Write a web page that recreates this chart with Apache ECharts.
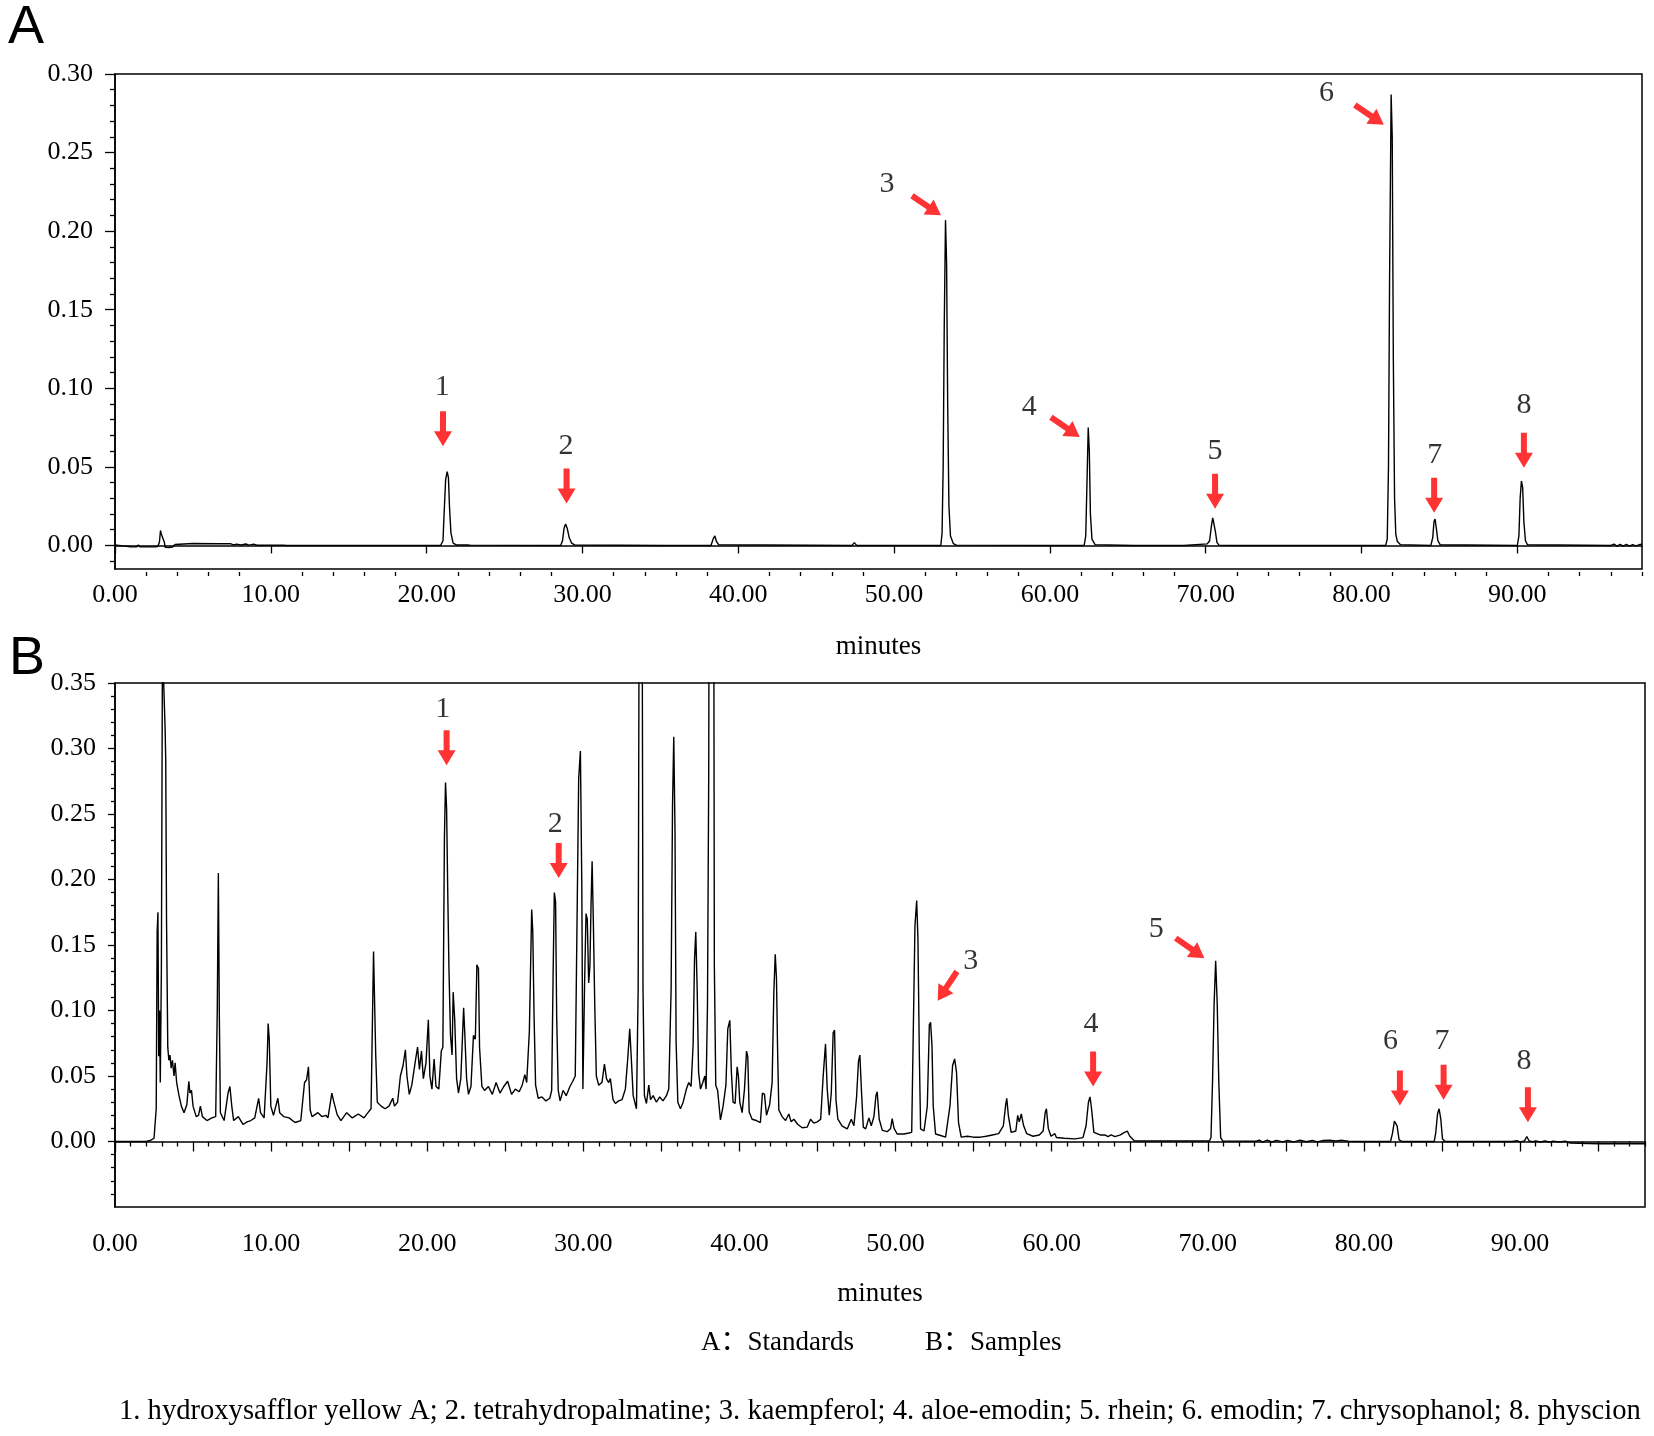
<!DOCTYPE html>
<html>
<head>
<meta charset="utf-8">
<script src="https://cdn.jsdelivr.net/npm/echarts@6.0.0/dist/echarts.min.js"></script>
<style>
  html, body { margin: 0; padding: 0; background: #fff; }
  #chart { width: 1654px; height: 1436px; }
</style>
</head>
<body>
<div id="chart"></div>
<script>
// HPLC chromatograms: A = standards, B = samples.

// ---- axis ticks (minutes / absorbance) ----
const timeLabels = [0, 10, 20, 30, 40, 50, 60, 70, 80, 90];
const timeMajorA = [0, 10, 20, 30, 40, 50, 60, 70, 80, 90];
const timeMinorA = [2, 4, 6, 8, 12, 14, 16, 18, 22, 24, 26, 28, 32, 34, 36, 38, 42, 44, 46, 48,
  52, 54, 56, 58, 62, 64, 66, 68, 72, 74, 76, 78, 82, 84, 86, 88, 92, 94, 96, 98];
const timeMajorB = [0, 5, 10, 15, 20, 25, 30, 35, 40, 45, 50, 55, 60, 65, 70, 75, 80, 85, 90, 95];
const timeMinorB = [1, 2, 3, 4, 6, 7, 8, 9, 11, 12, 13, 14, 16, 17, 18, 19, 21, 22, 23, 24,
  26, 27, 28, 29, 31, 32, 33, 34, 36, 37, 38, 39, 41, 42, 43, 44, 46, 47, 48, 49,
  51, 52, 53, 54, 56, 57, 58, 59, 61, 62, 63, 64, 66, 67, 68, 69, 71, 72, 73, 74,
  76, 77, 78, 79, 81, 82, 83, 84, 86, 87, 88, 89, 91, 92, 93, 94, 96, 97, 98];
const absLabelsA = [0, 0.05, 0.10, 0.15, 0.20, 0.25, 0.30];
const absMinorA = [-0.01, 0.01, 0.02, 0.03, 0.04, 0.06, 0.07, 0.08, 0.09, 0.11, 0.12, 0.13, 0.14,
  0.16, 0.17, 0.18, 0.19, 0.21, 0.22, 0.23, 0.24, 0.26, 0.27, 0.28, 0.29];
const absLabelsB = [0, 0.05, 0.10, 0.15, 0.20, 0.25, 0.30, 0.35];
const absMinorB = [-0.04, -0.03, -0.02, -0.01, 0.01, 0.02, 0.03, 0.04, 0.06, 0.07, 0.08, 0.09,
  0.11, 0.12, 0.13, 0.14, 0.16, 0.17, 0.18, 0.19, 0.21, 0.22, 0.23, 0.24, 0.26, 0.27, 0.28, 0.29,
  0.31, 0.32, 0.33, 0.34];

// ---- trace A: standards [minutes, AU] ----
const traceA = [
  [0, 0.0003], [0.5, -0.0003], [1.0, -0.0008], [1.4, -0.0009], [1.5, 0.0004], [1.6, -0.0009],
  [2.6, -0.0009], [2.75, -0.0005], [2.85, 0.002], [2.92, 0.0095], [2.97, 0.0075], [3.02, 0.006],
  [3.1, 0.0058], [3.17, 0.002], [3.22, -0.0012], [3.45, -0.0013], [3.7, -0.001], [3.85, 0.0006],
  [3.95, 0.0012], [5.0, 0.0012], [6.5, 0.0011], [7.4, 0.0011], [7.6, 0.0003], [7.8, 0.0008],
  [8.1, 0.0003], [8.4, 0.0009], [8.6, 0.0002], [8.9, 0.0008], [9.1, 0.0001], [10.2, 0.0001],
  [10.3, 0.0007], [10.4, 0.0001], [10.8, 0.0001], [10.9, 0.0007], [11.0, 0],
  [20.9, 0], [21.05, 0.003], [21.12, 0.02], [21.22, 0.042], [21.32, 0.047], [21.4, 0.043],
  [21.47, 0.024], [21.56, 0.008], [21.7, 0.0015], [21.9, 0.0003], [22.6, 0.0003], [22.7, 0.0012],
  [22.8, 0.0002], [28.6, 0], [28.72, 0.003], [28.82, 0.011], [28.92, 0.0137], [29.02, 0.011],
  [29.15, 0.005], [29.3, 0.0015], [29.5, 0.0003], [35.2, 0], [35.3, 0.0008], [35.4, 0],
  [38.25, 0], [38.4, 0.0045], [38.5, 0.006], [38.6, 0.0025], [38.75, 0.0004], [47.3, 0],
  [47.45, 0.0018], [47.6, 0], [53.0, 0], [53.08, 0.008], [53.15, 0.05], [53.22, 0.14],
  [53.3, 0.207], [53.37, 0.18], [53.44, 0.09], [53.52, 0.025], [53.62, 0.006], [53.8, 0.0012],
  [54.0, 0.0002], [62.2, 0], [62.3, 0.006], [62.38, 0.04], [62.46, 0.075], [62.53, 0.06],
  [62.6, 0.02], [62.7, 0.004], [62.9, 0.0005], [65.4, 0], [65.5, 0.0008], [65.6, 0], [67.0, 0],
  [67.1, 0.0006], [67.2, 0], [68.6, 0], [68.7, 0.0009], [70.1, 0.001], [70.25, 0.003],
  [70.36, 0.012], [70.45, 0.0175], [70.53, 0.017], [70.62, 0.009], [70.72, 0.002], [70.85, 0.0002],
  [71.9, 0], [72.0, 0.0008], [72.1, 0], [72.8, 0], [72.9, 0.0007], [73.0, 0], [73.7, 0],
  [73.8, 0.0009], [73.9, 0], [79.4, 0], [79.5, 0.0009], [79.6, 0], [81.55, 0], [81.65, 0.004],
  [81.73, 0.05], [81.8, 0.17], [81.9, 0.287], [81.97, 0.26], [82.04, 0.12], [82.12, 0.03],
  [82.2, 0.007], [82.3, 0.0025], [82.5, 0.0005], [84.45, 0], [84.57, 0.005], [84.65, 0.015],
  [84.72, 0.0168], [84.8, 0.011], [84.9, 0.003], [85.05, 0.0004], [90.0, 0], [90.1, 0.006],
  [90.18, 0.03], [90.26, 0.041], [90.34, 0.037], [90.42, 0.015], [90.52, 0.003], [90.65, 0.0004],
  [96.0, 0], [96.2, 0.0008], [96.4, -0.0004], [96.6, 0.0007], [96.8, -0.0005], [97.0, 0.0006],
  [97.2, -0.0004], [97.4, 0.0005], [97.6, -0.0003], [97.8, 0.0004], [98, 0.0008]
];

// ---- trace B: samples [minutes, AU] ----
const traceB = [
  [0, 0], [2.0, 0], [2.3, 0.001], [2.5, 0.0025], [2.58, 0.004], [2.64, 0.025], [2.7, 0.16],
  [2.75, 0.175], [2.8, 0.065], [2.85, 0.1], [2.9, 0.045], [2.97, 0.13], [3.04, 0.38], [3.16, 0.38],
  [3.21, 0.315], [3.25, 0.29], [3.3, 0.17], [3.38, 0.072], [3.45, 0.062], [3.52, 0.066],
  [3.6, 0.056], [3.68, 0.062], [3.78, 0.05], [3.85, 0.06], [3.95, 0.045], [4.1, 0.035],
  [4.25, 0.027], [4.42, 0.022], [4.6, 0.028], [4.73, 0.046], [4.8, 0.037], [4.9, 0.039],
  [5.0, 0.027], [5.2, 0.019], [5.35, 0.02], [5.47, 0.027], [5.6, 0.019], [5.89, 0.016],
  [6.2, 0.018], [6.45, 0.019], [6.55, 0.1], [6.62, 0.205], [6.68, 0.1], [6.75, 0.022],
  [6.99, 0.016], [7.24, 0.037], [7.36, 0.042], [7.48, 0.027], [7.6, 0.016], [7.9, 0.019],
  [8.2, 0.013], [8.46, 0.015], [8.7, 0.016], [8.95, 0.018], [9.2, 0.033], [9.32, 0.022],
  [9.55, 0.018], [9.74, 0.06], [9.81, 0.09], [9.88, 0.078], [9.98, 0.027], [10.15, 0.02],
  [10.43, 0.033], [10.55, 0.022], [10.8, 0.019], [11.15, 0.018], [11.53, 0.0145], [11.9, 0.016],
  [12.14, 0.045], [12.27, 0.047], [12.39, 0.057], [12.5, 0.024], [12.62, 0.019], [13.0, 0.022],
  [13.25, 0.019], [13.5, 0.02], [13.64, 0.018], [13.89, 0.037], [14.0, 0.031], [14.23, 0.0205],
  [14.47, 0.016], [14.84, 0.022], [15.2, 0.018], [15.58, 0.021], [15.95, 0.018], [16.2, 0.022],
  [16.4, 0.025], [16.5, 0.1], [16.56, 0.145], [16.63, 0.144], [16.7, 0.066], [16.8, 0.03],
  [17.05, 0.027], [17.3, 0.025], [17.55, 0.027], [17.79, 0.033], [17.9, 0.027], [18.1, 0.03],
  [18.28, 0.05], [18.45, 0.058], [18.6, 0.07], [18.7, 0.05], [18.85, 0.036], [19.01, 0.043],
  [19.26, 0.063], [19.38, 0.072], [19.5, 0.055], [19.63, 0.069], [19.75, 0.048], [19.92, 0.06],
  [20.07, 0.093], [20.17, 0.05], [20.3, 0.04], [20.44, 0.063], [20.56, 0.042], [20.74, 0.04],
  [20.9, 0.069], [21.0, 0.072], [21.1, 0.232], [21.17, 0.274], [21.24, 0.254], [21.31, 0.193],
  [21.39, 0.132], [21.49, 0.081], [21.59, 0.066], [21.66, 0.114], [21.76, 0.093], [21.88, 0.048],
  [22.0, 0.037], [22.15, 0.048], [22.33, 0.102], [22.4, 0.084], [22.52, 0.048], [22.64, 0.036],
  [22.8, 0.042], [22.96, 0.081], [23.08, 0.078], [23.18, 0.135], [23.28, 0.132], [23.35, 0.072],
  [23.5, 0.042], [23.67, 0.039], [23.92, 0.042], [24.17, 0.036], [24.41, 0.045], [24.66, 0.037],
  [24.9, 0.042], [25.15, 0.046], [25.4, 0.036], [25.64, 0.04], [25.89, 0.038], [26.08, 0.043],
  [26.25, 0.051], [26.37, 0.045], [26.54, 0.084], [26.69, 0.177], [26.76, 0.16], [26.84, 0.097],
  [26.94, 0.043], [27.11, 0.033], [27.35, 0.034], [27.6, 0.031], [27.85, 0.033], [27.97, 0.039],
  [28.06, 0.126], [28.14, 0.19], [28.22, 0.183], [28.29, 0.096], [28.39, 0.039], [28.51, 0.031],
  [28.7, 0.039], [28.9, 0.035], [29.14, 0.042], [29.32, 0.046], [29.48, 0.05], [29.6, 0.05],
  [29.7, 0.277], [29.81, 0.298], [29.9, 0.195], [29.97, 0.04], [30.08, 0.122], [30.17, 0.174],
  [30.25, 0.17], [30.34, 0.121], [30.42, 0.134], [30.49, 0.18], [30.56, 0.214], [30.64, 0.167],
  [30.73, 0.104], [30.83, 0.05], [30.98, 0.043], [31.19, 0.045], [31.35, 0.059], [31.48, 0.048],
  [31.62, 0.045], [31.73, 0.048], [31.9, 0.032], [32.05, 0.029], [32.26, 0.031], [32.48, 0.032],
  [32.69, 0.04], [32.84, 0.063], [32.97, 0.086], [33.06, 0.066], [33.19, 0.035], [33.4, 0.025],
  [33.51, 0.116], [33.58, 0.45], [33.76, 0.45], [33.82, 0.116], [33.91, 0.035], [34.04, 0.029],
  [34.19, 0.043], [34.3, 0.032], [34.47, 0.035], [34.68, 0.03], [34.89, 0.034], [35.1, 0.031],
  [35.32, 0.035], [35.47, 0.04], [35.62, 0.116], [35.71, 0.256], [35.79, 0.309], [35.87, 0.236],
  [35.94, 0.076], [36.05, 0.03], [36.22, 0.025], [36.39, 0.03], [36.6, 0.04], [36.75, 0.045],
  [36.9, 0.042], [37.03, 0.074], [37.12, 0.139], [37.2, 0.16], [37.29, 0.116], [37.38, 0.053],
  [37.5, 0.04], [37.65, 0.045], [37.78, 0.05], [37.86, 0.04], [37.95, 0.104], [38.03, 0.282],
  [38.08, 0.6], [38.33, 0.6], [38.39, 0.134], [38.48, 0.043], [38.6, 0.039], [38.78, 0.0165],
  [38.95, 0.027], [39.13, 0.043], [39.25, 0.086], [39.38, 0.0925], [39.48, 0.053], [39.59, 0.03],
  [39.72, 0.029], [39.85, 0.057], [39.93, 0.05], [40.02, 0.03], [40.17, 0.022], [40.32, 0.04],
  [40.45, 0.069], [40.53, 0.065], [40.62, 0.0225], [40.81, 0.017], [41.08, 0.016], [41.34, 0.0145],
  [41.47, 0.037], [41.6, 0.036], [41.73, 0.02], [41.93, 0.028], [42.09, 0.045], [42.2, 0.114],
  [42.29, 0.143], [42.37, 0.124], [42.44, 0.07], [42.52, 0.024], [42.73, 0.019], [42.95, 0.016],
  [43.16, 0.021], [43.31, 0.015], [43.48, 0.017], [43.74, 0.013], [44.02, 0.0105], [44.34, 0.011],
  [44.55, 0.017], [44.76, 0.014], [44.98, 0.015], [45.2, 0.017], [45.36, 0.05], [45.51, 0.0745],
  [45.62, 0.04], [45.75, 0.02], [45.88, 0.037], [46.0, 0.083], [46.09, 0.085], [46.18, 0.032],
  [46.3, 0.017], [46.58, 0.0117], [46.9, 0.0096], [47.16, 0.017], [47.33, 0.012], [47.5, 0.034],
  [47.62, 0.061], [47.71, 0.066], [47.82, 0.037], [47.93, 0.011], [48.08, 0.0096], [48.29, 0.018],
  [48.44, 0.012], [48.61, 0.019], [48.74, 0.035], [48.82, 0.038], [48.95, 0.017], [49.15, 0.0085],
  [49.46, 0.0075], [49.68, 0.01], [49.78, 0.0175], [49.9, 0.01], [50.1, 0.0057], [50.53, 0.0057],
  [50.85, 0.0065], [51.03, 0.007], [51.13, 0.083], [51.24, 0.165], [51.35, 0.184], [51.43, 0.155],
  [51.52, 0.066], [51.6, 0.0096], [51.82, 0.008], [52.03, 0.027], [52.16, 0.089], [52.24, 0.091],
  [52.33, 0.073], [52.41, 0.027], [52.56, 0.0057], [52.88, 0.0046], [53.2, 0.0033], [53.48, 0.027],
  [53.65, 0.058], [53.78, 0.063], [53.9, 0.053], [54.03, 0.0145], [54.2, 0.0033], [54.59, 0.004],
  [55.0, 0.0033], [55.43, 0.0033], [55.8, 0.004], [56.2, 0.005], [56.6, 0.006], [56.9, 0.012],
  [57.05, 0.028], [57.12, 0.033], [57.22, 0.02], [57.4, 0.007], [57.7, 0.008], [57.82, 0.02],
  [57.92, 0.015], [58.05, 0.021], [58.2, 0.012], [58.4, 0.006], [58.8, 0.004], [59.2, 0.005],
  [59.45, 0.008], [59.58, 0.022], [59.66, 0.025], [59.78, 0.01], [59.95, 0.004], [60.2, 0.006],
  [60.3, 0.003], [60.8, 0.0025], [61.5, 0.002], [62.0, 0.003], [62.2, 0.012], [62.35, 0.03],
  [62.45, 0.034], [62.55, 0.025], [62.7, 0.007], [63.1, 0.005], [63.4, 0.005], [63.6, 0.0037],
  [63.8, 0.005], [64.05, 0.0037], [64.4, 0.005], [64.6, 0.0066], [64.84, 0.008], [65.0, 0.004],
  [65.3, 0.0004], [70.1, 0.0004], [70.2, 0.003], [70.3, 0.046], [70.4, 0.105], [70.5, 0.138],
  [70.6, 0.105], [70.7, 0.046], [70.82, 0.003], [70.95, 0.0004], [73.1, 0.0002], [73.3, 0.001],
  [73.5, -0.0005], [73.8, 0.001], [74.1, -0.0004], [74.4, 0.0009], [74.8, -0.0003], [75.1, 0.0008],
  [75.5, -0.0003], [75.9, 0.001], [76.3, -0.0002], [76.7, 0.0009], [77.0, -0.0003], [77.4, 0.0008],
  [77.8, 0.0009], [78.2, 0.0004], [78.6, 0.0009], [79.0, 0.0002], [80.0, 0], [81.7, 0],
  [81.82, 0.006], [81.95, 0.0155], [82.03, 0.0166], [82.12, 0.012], [82.25, 0.0013], [82.45, 0],
  [84.5, 0], [84.6, 0.007], [84.71, 0.021], [84.81, 0.025], [84.92, 0.017], [85.03, 0.002],
  [85.2, 0], [89.5, 0], [89.8, 0.0006], [90.0, -0.0003], [90.28, 0.0005], [90.43, 0.0038],
  [90.58, 0.0004], [90.8, -0.0002], [91.0, 0.0005], [91.3, -0.0004], [91.6, 0.0004], [91.9, -0.0005],
  [92.1, 0.0003], [92.5, -0.0003], [92.9, 0.0003], [93.2, -0.0012], [95, -0.0017], [98, -0.0017]
];

// ---- peak markers: [minutes, AU at arrow centre, rotation deg] and [minutes, AU, text] ----
const arrowsA = [
  [21.05, 0.0742, 0], [28.98, 0.0378, 0], [52.08, 0.2163, 56], [60.99, 0.0753, 55.5],
  [70.6, 0.0345, 0], [80.5, 0.274, 56], [84.66, 0.032, 0], [90.42, 0.0606, 0]
];
const peakLabelsA = [
  [21.0, 0.1006, '1'], [28.95, 0.0629, '2'], [49.54, 0.23, '3'], [58.68, 0.088, '4'],
  [70.6, 0.060, '5'], [77.75, 0.288, '6'], [84.7, 0.0577, '7'], [90.42, 0.0894, '8']
];
const arrowsB = [
  [21.24, 0.3005, 0], [28.42, 0.2145, 0], [53.31, 0.1186, -33.4], [62.65, 0.0554, 0],
  [68.86, 0.1476, 55], [82.3, 0.0408, 0], [85.1, 0.0453, 0], [90.5, 0.028, 0]
];
const peakLabelsB = [
  [21.0, 0.330, '1'], [28.2, 0.2425, '2'], [54.81, 0.138, '3'], [62.51, 0.0897, '4'],
  [66.7, 0.162, '5'], [81.7, 0.0765, '6'], [85.0, 0.0765, '7'], [90.25, 0.0612, '8']
];

const serif = "'Liberation Serif', 'Times New Roman', 'Noto Sans CJK SC', serif";
const black = '#000';
const arrowPath = 'path://M6,0 L12,0 L12,20 L18,20 L9,35 L0,20 L6,20 Z';
const fmt2 = (v) => Number(v).toFixed(2);

function timeAxis(grid, extra) {
  return Object.assign({
    gridIndex: grid, type: 'value', position: 'bottom', min: 0, max: 98,
    axisLine: { show: false }, axisTick: { show: false },
    axisLabel: { show: false }, splitLine: { show: false }
  }, extra);
}
function absAxis(grid, min, max, extra) {
  return Object.assign({
    gridIndex: grid, type: 'value', position: 'left', min: min, max: max,
    axisLine: { show: false }, axisTick: { show: false },
    axisLabel: { show: false }, splitLine: { show: false }
  }, extra);
}
const tickStyle = { color: black, width: 1.3 };
const labelStyle = { color: black, fontSize: 26, fontFamily: serif };
const nameStyle = { color: black, fontSize: 27, fontFamily: serif };

function markerSeries(xi, yi, arrows, labels) {
  return [{
    type: 'scatter', xAxisIndex: xi, yAxisIndex: yi, z: 5, silent: true,
    symbol: arrowPath, symbolSize: [18, 35],
    itemStyle: { color: '#ff0000' },
    data: arrows.map((a) => ({ value: [a[0], a[1]], symbolRotate: a[2] }))
  }, {
    type: 'scatter', xAxisIndex: xi, yAxisIndex: yi, z: 6, silent: true,
    symbolSize: 1, itemStyle: { color: 'rgba(0,0,0,0)' },
    label: { show: true, position: 'inside', formatter: '{b}', color: black, fontSize: 30, fontFamily: serif },
    data: labels.map((l) => ({ name: l[2], value: [l[0], l[1]] }))
  }];
}

const chart = echarts.init(document.getElementById('chart'), null, { renderer: 'canvas' });
chart.setOption({
  backgroundColor: '#fff',
  animation: false,
  grid: [
    { left: 115, top: 74, width: 1527, height: 495, show: true, borderColor: black, borderWidth: 1.5,
      backgroundColor: 'transparent', containLabel: false, outerBoundsMode: 'none' },
    { left: 115, top: 683, width: 1530, height: 524, show: true, borderColor: black, borderWidth: 1.5,
      backgroundColor: 'transparent', containLabel: false, outerBoundsMode: 'none' }
  ],
  xAxis: [
    timeAxis(0, {
      axisLine: { show: true, lineStyle: { color: black, width: 1.5 } },
      axisLabel: { show: true, customValues: timeLabels, formatter: fmt2, margin: 13, ...labelStyle },
      name: 'minutes', nameLocation: 'middle', nameGap: 64, nameTextStyle: nameStyle
    }),
    timeAxis(0, { offset: 3, axisTick: { show: true, customValues: timeMajorA, length: 8, lineStyle: tickStyle } }),
    timeAxis(0, { offset: 3, axisTick: { show: true, customValues: timeMinorA, length: 4, lineStyle: tickStyle } }),
    timeAxis(1, {
      axisLine: { show: true, lineStyle: { color: black, width: 1.5 } },
      axisTick: { show: true, customValues: timeMajorB, length: 10, lineStyle: tickStyle },
      axisLabel: { show: true, customValues: timeLabels, formatter: fmt2, margin: 24, ...labelStyle },
      name: 'minutes', nameLocation: 'middle', nameGap: 73, nameTextStyle: nameStyle
    }),
    timeAxis(1, { axisTick: { show: true, customValues: timeMinorB, length: 5, lineStyle: tickStyle } })
  ],
  yAxis: [
    absAxis(0, -0.015, 0.30, {
      axisLine: { show: true, lineStyle: { color: black, width: 1.5 } },
      axisTick: { show: true, customValues: absLabelsA, length: 10, lineStyle: tickStyle },
      axisLabel: { show: true, customValues: absLabelsA, formatter: fmt2, margin: 22, ...labelStyle }
    }),
    absAxis(0, -0.015, 0.30, { axisTick: { show: true, customValues: absMinorA, length: 5, lineStyle: tickStyle } }),
    absAxis(1, -0.05, 0.35, {
      axisLine: { show: true, lineStyle: { color: black, width: 1.5 } },
      axisTick: { show: true, customValues: absLabelsB, length: 7, lineStyle: tickStyle },
      axisLabel: { show: true, customValues: absLabelsB, formatter: fmt2, margin: 19, ...labelStyle }
    }),
    absAxis(1, -0.05, 0.35, { axisTick: { show: true, customValues: absMinorB, length: 4, lineStyle: tickStyle } })
  ],
  series: [
    { type: 'line', name: 'Standards', xAxisIndex: 0, yAxisIndex: 0, data: traceA, symbol: 'none',
      silent: true, lineStyle: { color: black, width: 1.4 } },
    ...markerSeries(0, 0, arrowsA, peakLabelsA),
    { type: 'line', name: 'Samples', xAxisIndex: 3, yAxisIndex: 2, data: traceB, symbol: 'none',
      silent: true, lineStyle: { color: black, width: 1.4 } },
    ...markerSeries(3, 2, arrowsB, peakLabelsB)
  ],
  graphic: [
    { type: 'text', x: 8, y: 28, style: { text: 'A', font: "54px 'Liberation Sans', Arial, sans-serif",
      fill: black, verticalAlign: 'middle', textVerticalAlign: 'middle' } },
    { type: 'text', x: 9, y: 659, style: { text: 'B', font: "54px 'Liberation Sans', Arial, sans-serif",
      fill: black, verticalAlign: 'middle', textVerticalAlign: 'middle' } },
    { type: 'text', x: 701, y: 1343, style: { text: 'A：Standards', font: '27px ' + serif,
      fill: black, verticalAlign: 'middle', textVerticalAlign: 'middle' } },
    { type: 'text', x: 925, y: 1343, style: { text: 'B：Samples', font: '27px ' + serif,
      fill: black, verticalAlign: 'middle', textVerticalAlign: 'middle' } },
    { type: 'text', x: 119, y: 1411, style: {
      text: '1. hydroxysafflor yellow A; 2. tetrahydropalmatine; 3. kaempferol; 4. aloe-emodin; 5. rhein; 6. emodin; 7. chrysophanol; 8. physcion',
      font: '28.6px ' + serif, fill: black, verticalAlign: 'middle', textVerticalAlign: 'middle' } }
  ]
});
</script>
</body>
</html>
